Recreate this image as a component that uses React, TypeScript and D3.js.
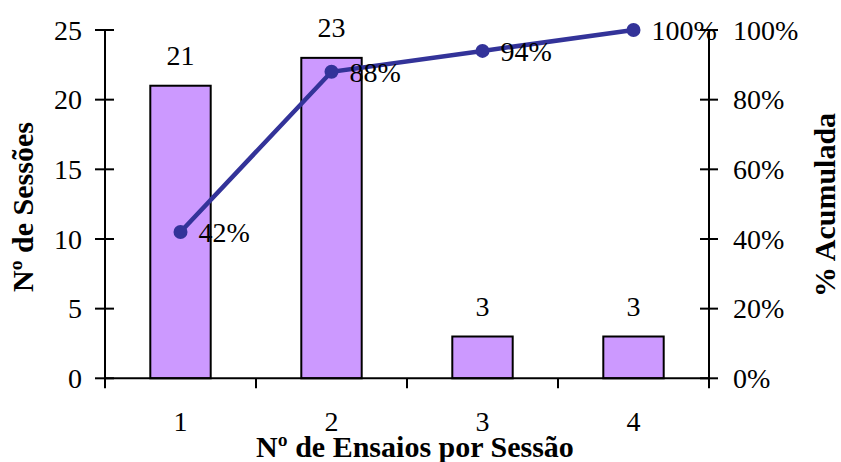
import React from "react";
import * as d3 from "d3";

const categories = ["1", "2", "3", "4"];
const sessions = [21, 23, 3, 3];
const cumulative = [0.42, 0.88, 0.94, 1.0];
const leftTicks = [0, 5, 10, 15, 20, 25];
const rightTicks = [0, 0.2, 0.4, 0.6, 0.8, 1.0];

const W = 841;
const H = 462;
const FONT = "Liberation Serif";
const FS = 28;
const FSB = 30;

export default function App() {
  const left = 105;
  const right = 709;
  const top = 30;
  const bottom = 378.3;

  const x = d3.scaleBand<string>().domain(categories).range([left, right]).paddingInner(0).paddingOuter(0);
  const y = d3.scaleLinear().domain([0, 25]).range([bottom, top]);
  const yr = d3.scaleLinear().domain([0, 1]).range([bottom, top]);
  const bw = x.bandwidth() * 0.4;
  const cx = (c: string) => (x(c) as number) + x.bandwidth() / 2;

  const line = d3
    .line<number>()
    .x((_, i) => cx(categories[i]))
    .y((d) => yr(d));

  const pct = d3.format(".0%");
  const boundaries = [left, ...categories.map((c) => (x(c) as number) + x.bandwidth())];
  const ts: React.CSSProperties = { fontFamily: FONT };

  return (
    <svg
      width={W}
      height={H}
      style={{ position: "absolute", left: 0, top: 0, background: "#fff", fontFamily: FONT }}
    >
      {sessions.map((v, i) => (
        <rect
          key={"b" + i}
          x={cx(categories[i]) - bw / 2}
          y={y(v)}
          width={bw}
          height={y(0) - y(v)}
          fill="#CC99FF"
          stroke="#000"
          strokeWidth={2}
        />
      ))}
      {sessions.map((v, i) => (
        <text key={"bl" + i} style={ts} x={cx(categories[i])} y={y(v) - 21} fontSize={FS} textAnchor="middle" fill="#000">
          {v}
        </text>
      ))}

      <line x1={left} x2={left} y1={top} y2={bottom} stroke="#000" strokeWidth={2} />
      {leftTicks.map((t) => (
        <g key={"lt" + t}>
          <line x1={left - 10} x2={left + 9} y1={y(t)} y2={y(t)} stroke="#000" strokeWidth={2} />
          <text style={ts} x={82} y={y(t)} dy="0.35em" fontSize={FS} textAnchor="end" fill="#000">
            {t}
          </text>
        </g>
      ))}

      <line x1={right} x2={right} y1={top} y2={bottom} stroke="#000" strokeWidth={2} />
      {rightTicks.map((t) => (
        <g key={"rt" + t}>
          <line x1={right - 9} x2={right + 9} y1={yr(t)} y2={yr(t)} stroke="#000" strokeWidth={2} />
          <text style={ts} x={733} y={yr(t)} dy="0.35em" fontSize={FS} textAnchor="start" fill="#000">
            {pct(t)}
          </text>
        </g>
      ))}

      <line x1={left} x2={right} y1={bottom} y2={bottom} stroke="#000" strokeWidth={2} />
      {boundaries.map((b, i) => (
        <line key={"xt" + i} x1={b} x2={b} y1={bottom} y2={bottom + 10} stroke="#000" strokeWidth={2} />
      ))}
      {categories.map((c) => (
        <text key={"xl" + c} style={ts} x={cx(c)} y={431} fontSize={FS} textAnchor="middle" fill="#000">
          {c}
        </text>
      ))}

      <path d={line(cumulative) || ""} fill="none" stroke="#333399" strokeWidth={4.5} />
      {cumulative.map((v, i) => (
        <circle key={"m" + i} cx={cx(categories[i])} cy={yr(v)} r={7} fill="#333399" />
      ))}
      {cumulative.map((v, i) => (
        <text
          key={"ml" + i}
          style={ts}
          x={cx(categories[i]) + 18}
          y={yr(v)}
          dy="0.35em"
          fontSize={FS}
          textAnchor="start"
          fill="#000"
        >
          {pct(v)}
        </text>
      ))}

      <text style={ts} x={(left + right) / 2 + 8} y={457} fontSize={FSB} fontWeight="bold" textAnchor="middle" fill="#000">
        Nº de Ensaios por Sessão
      </text>
      <text
        style={ts}
        transform={`translate(33, 207) rotate(-90)`}
        fontSize={FSB}
        fontWeight="bold"
        textAnchor="middle"
        fill="#000"
      >
        Nº de Sessões
      </text>
      <text
        style={ts}
        transform={`translate(835, 205) rotate(-90)`}
        fontSize={FSB}
        fontWeight="bold"
        textAnchor="middle"
        fill="#000"
      >
        % Acumulada
      </text>
    </svg>
  );
}
